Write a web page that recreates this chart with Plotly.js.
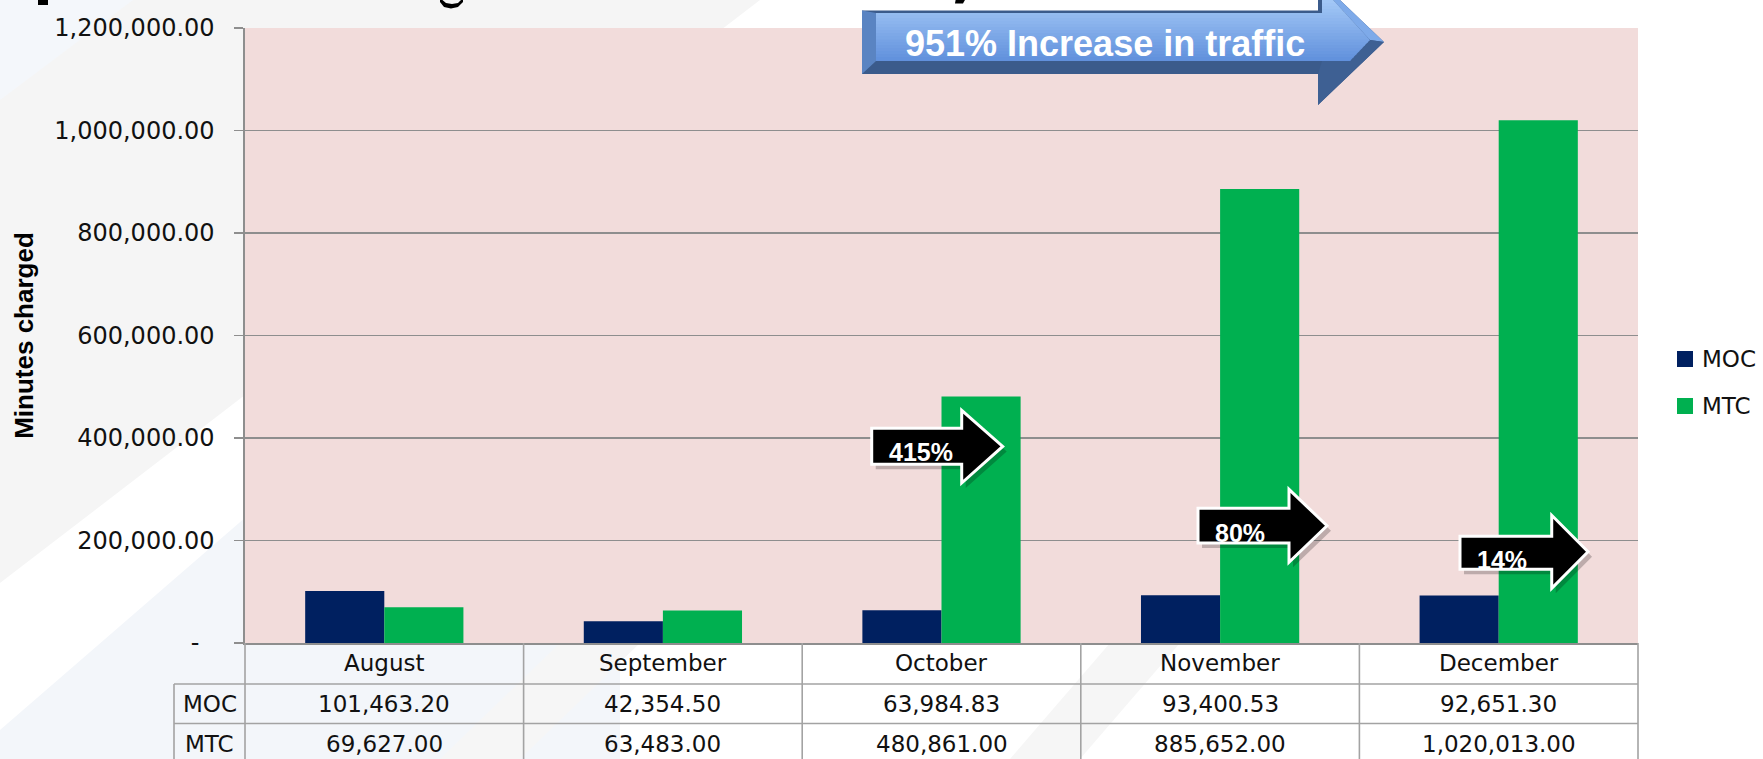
<!DOCTYPE html>
<html><head><meta charset="utf-8">
<script src="https://cdn.plot.ly/plotly-3.0.1.min.js"></script>
<style>html,body{margin:0;padding:0;background:#fff;overflow:hidden}#chart{width:1763px;height:759px}</style>
</head><body><div id="chart"></div>
<script>
// ---------- data ----------
const months = ['August', 'September', 'October', 'November', 'December'];
const mocValues = [101463.20, 42354.50, 63984.83, 93400.53, 92651.30];
const mtcValues = [69627.00, 63483.00, 480861.00, 885652.00, 1020013.00];
const seriesNames = ['MOC', 'MTC'];
const yTickValues = [0, 200000, 400000, 600000, 800000, 1000000, 1200000];
const growthLabels = ['415%', '80%', '14%'];
const growthMonths = ['October', 'November', 'December'];
const bannerText = '951% Increase in traffic';
const yAxisTitle = 'Minutes charged';

// ---------- geometry / style ----------
const W = 1763, H = 759, ML = 245, MR = 125, MT = 28, MB = 116;
const PW = W - ML - MR, PH = H - MT - MB;
const xp = px => (px - ML) / PW;
const yp = py => (H - MB - py) / PH;
const X_MIN = -0.5, X_MAX = months.length - 0.5;
const xIdxToPaper = v => (v - X_MIN) / (X_MAX - X_MIN);
const pxPerX = PW / (X_MAX - X_MIN), valPerPx = 1200000 / PH;

const SERIES_COLORS = ['#002060', '#00B050'];
const GRID = '#8e8e8e', TABLE_LINE = '#a3a3a3';
const NUM_FONT = 'DejaVu Sans, Verdana, sans-serif';
const BOLD_FONT = 'Liberation Sans, Arial, sans-serif';

// arrow shapes (offsets from month index, y in data units)
const arrowGeom = [
  {L: -0.2505, Hs: 0.0725, T: 0.2197, bt: 418900, bb: 348700, ht: 454000, hb: 312200, ty: 383500, tx: -0.0736, tty: 372100},
  {L: -0.0793, Hs: 0.2473, T: 0.3837, bt: 262800, bb: 195100, ht: 299900, hb: 157500, ty: 228700, tx: 0.0732, tty: 214000},
  {L: -0.1389, Hs: 0.1903, T: 0.3206, bt: 208200, bb: 143800, ht: 249200, hb: 106700, ty: 178000, tx: 0.0136, tty: 161400}
];

const fmt2 = v => v.toLocaleString('en-US', {minimumFractionDigits: 2, maximumFractionDigits: 2});
// Excel accounting style: zero shown as a dash, padded from the right
const yTickText = yTickValues.map(v => v === 0 ? '-\u00a0\u00a0' : fmt2(v));

// ---------- traces ----------
const traces = [
  {type: 'bar', name: seriesNames[0], x: months, y: mocValues, marker: {color: SERIES_COLORS[0]}, hoverinfo: 'x+y+name'},
  {type: 'bar', name: seriesNames[1], x: months, y: mtcValues, marker: {color: SERIES_COLORS[1]}, hoverinfo: 'x+y+name'}
];

const shapes = [];
const annotations = [];

function polyPaper(pts) {
  return 'M' + pts.map(p => xp(p[0]).toFixed(5) + ',' + yp(p[1]).toFixed(5)).join(' L') + ' Z';
}
// faint slide background decoration
shapes.push({type: 'path', xref: 'paper', yref: 'paper', layer: 'below', path: polyPaper([[0, 0], [760, 0], [0, 583]]), fillcolor: '#f5f5f5', line: {width: 0}});
shapes.push({type: 'path', xref: 'paper', yref: 'paper', layer: 'below', path: polyPaper([[0, 0], [133, 0], [0, 100]]), fillcolor: '#f4f7fb', line: {width: 0}});
shapes.push({type: 'path', xref: 'paper', yref: 'paper', layer: 'below', path: polyPaper([[0, 759], [0, 730], [300, 470], [620, 470], [620, 759]]), fillcolor: '#f3f6fa', line: {width: 0}});
shapes.push({type: 'path', xref: 'paper', yref: 'paper', layer: 'below', path: polyPaper([[560, 643], [640, 643], [520, 759], [440, 759]]), fillcolor: '#f6f6f6', line: {width: 0}});
shapes.push({type: 'path', xref: 'paper', yref: 'paper', layer: 'below', path: polyPaper([[1110, 643], [1180, 643], [1080, 759], [1010, 759]]), fillcolor: '#f6f6f6', line: {width: 0}});
// plot background (pink)
shapes.push({type: 'rect', xref: 'paper', yref: 'paper', layer: 'below', x0: 0, x1: 1, y0: 0, y1: 1, fillcolor: '#F2DCDB', line: {width: 0}});

// title remnants cut at top edge
shapes.push({type: 'path', xref: 'paper', yref: 'paper', path: polyPaper([[38, -2], [48, -2], [48, 5], [38, 5]]), fillcolor: '#000', line: {width: 0}});
shapes.push({type: 'path', xref: 'paper', yref: 'paper', path: polyPaper([[440, -2], [446, 3], [452, 4], [458, 3], [463, -2], [463, 2], [458, 7], [451, 8.5], [444, 7], [440, 2]]), fillcolor: '#000', line: {width: 0}});
shapes.push({type: 'path', xref: 'paper', yref: 'paper', path: polyPaper([[956, -2], [966, -2], [963, 3.5], [955, 3.5]]), fillcolor: '#000', line: {width: 0}});

// data table under the plot
const tableBottom = yp(770), rowLine1 = yp(684), rowLine2 = yp(723.5), labelLeft = xp(174);
for (let k = 0; k <= months.length; k++) {
  const xpv = xIdxToPaper(k - 0.5);
  shapes.push({type: 'line', xref: 'paper', yref: 'paper', x0: xpv, x1: xpv, y0: 0, y1: tableBottom, line: {color: TABLE_LINE, width: 1.6}});
}
shapes.push({type: 'line', xref: 'paper', yref: 'paper', x0: labelLeft, x1: labelLeft, y0: rowLine1, y1: tableBottom, line: {color: TABLE_LINE, width: 1.6}});
[rowLine1, rowLine2].forEach(yy => shapes.push({type: 'line', xref: 'paper', yref: 'paper', x0: labelLeft, x1: 1, y0: yy, y1: yy, line: {color: TABLE_LINE, width: 1.6}}));

const tblFont = {family: NUM_FONT, size: 23, color: '#111'};
months.forEach((m, i) => {
  annotations.push({xref: 'x', yref: 'paper', x: i, y: yp(663), text: m, showarrow: false, font: tblFont, xanchor: 'center', yanchor: 'middle'});
  annotations.push({xref: 'x', yref: 'paper', x: i, y: yp(703.5), text: fmt2(mocValues[i]), showarrow: false, font: tblFont, xanchor: 'center', yanchor: 'middle'});
  annotations.push({xref: 'x', yref: 'paper', x: i, y: yp(744), text: fmt2(mtcValues[i]), showarrow: false, font: tblFont, xanchor: 'center', yanchor: 'middle'});
});
[[seriesNames[0], 703.5], [seriesNames[1], 744]].forEach(([t, y]) =>
  annotations.push({xref: 'paper', yref: 'paper', x: xp(209.5), y: yp(y), text: t, showarrow: false, font: tblFont, xanchor: 'center', yanchor: 'middle'}));

// legend (drawn manually so it does not push the plot margins)
const legendRows = [359, 406];
seriesNames.forEach((nm, i) => {
  const cy = legendRows[i];
  shapes.push({type: 'rect', xref: 'paper', yref: 'paper', x0: xp(1677), x1: xp(1693), y0: yp(cy + 8), y1: yp(cy - 8), fillcolor: SERIES_COLORS[i], line: {width: 0}});
  annotations.push({xref: 'paper', yref: 'paper', x: xp(1700), y: yp(cy), text: nm, showarrow: false, xanchor: 'left', yanchor: 'middle',
    font: {family: NUM_FONT, size: 23, color: '#111'}});
});

// growth arrows
function arrowPath(c, g, dx, dy) {
  const P = (x, y) => (c + x + dx).toFixed(4) + ',' + (y + dy).toFixed(0);
  return 'M' + P(g.L, g.bt) + ' L' + P(g.Hs, g.bt) + ' L' + P(g.Hs, g.ht) + ' L' + P(g.T, g.ty) +
    ' L' + P(g.Hs, g.hb) + ' L' + P(g.Hs, g.bb) + ' L' + P(g.L, g.bb) + ' Z';
}
growthLabels.forEach((lab, j) => {
  const c = months.indexOf(growthMonths[j]);
  const g = arrowGeom[j];
  shapes.push({type: 'path', xref: 'x', yref: 'y', path: arrowPath(c, g, 4 / pxPerX, -5 * valPerPx), fillcolor: 'rgba(0,0,0,0.22)', line: {width: 0}});
  shapes.push({type: 'path', xref: 'x', yref: 'y', path: arrowPath(c, g, 0, 0), fillcolor: '#000000', line: {color: '#ffffff', width: 3}});
  annotations.push({xref: 'x', yref: 'y', x: c + g.tx, y: g.tty, text: lab, showarrow: false, xanchor: 'center', yanchor: 'middle',
    font: {family: BOLD_FONT, size: 25, weight: 'bold', color: '#ffffff'}});
});

// big banner arrow (pixel geometry -> paper)
const banner = {L: 862, T: 10.5, B: 74, Hs: 1318, tipX: 1384, tipY: 42, hT: -21, hB: 105};
shapes.push({type: 'path', xref: 'paper', yref: 'paper',
  path: polyPaper([[banner.L, banner.T], [banner.Hs, banner.T], [banner.Hs, banner.hT], [banner.tipX, banner.tipY], [banner.Hs, banner.hB], [banner.Hs, banner.B], [banner.L, banner.B]]),
  fillcolor: '#3b5b8b', line: {width: 0}});
shapes.push({type: 'path', xref: 'paper', yref: 'paper', path: polyPaper([[862, 10.5], [876, 13], [876, 61], [862, 74]]), fillcolor: '#5a84c2', line: {width: 0}});
shapes.push({type: 'path', xref: 'paper', yref: 'paper', path: polyPaper([[1318, -21], [1384, 42], [1370, 40], [1322, -12]]), fillcolor: '#7eaae9', line: {width: 0}});
shapes.push({type: 'path', xref: 'paper', yref: 'paper', path: polyPaper([[1318, 74], [1318, 105], [1384, 42], [1370, 40], [1350, 61], [1322, 61]]), fillcolor: '#3e6093', line: {width: 0}});
(function () {
  const top = [178, 212, 252], bot = [96, 144, 220];
  const xL = y => (y < 13 ? 1322 : 876);
  const xR = y => (y <= 40 ? 1322 + (y + 12) * 48 / 52 : 1370 - (y - 40) * 20 / 21);
  let ys = [];
  for (let y = -12; y < 61; y += 3) ys.push(y);
  ys.push(13, 40, 61);
  ys = Array.from(new Set(ys)).sort((a, b) => a - b);
  for (let k = 0; k < ys.length - 1; k++) {
    const ya = ys[k], yb = Math.min(ys[k + 1] + 0.6, 61);
    const t = ((ya + yb) / 2 + 12) / 73;
    const col = 'rgb(' + top.map((v, q) => Math.round(v + (bot[q] - v) * t)).join(',') + ')';
    const xl = xL((ya + yb) / 2);
    shapes.push({type: 'path', xref: 'paper', yref: 'paper', path: polyPaper([[xl, ya], [xR(ya), ya], [xR(yb), yb], [xl, yb]]), fillcolor: col, line: {width: 0}});
  }
})();
annotations.push({xref: 'paper', yref: 'paper', x: xp(1105), y: yp(43), text: bannerText, showarrow: false, xanchor: 'center', yanchor: 'middle',
  font: {family: BOLD_FONT, size: 36, weight: 'bold', color: '#ffffff'}});

const layout = {
  width: W, height: H,
  margin: {l: ML, r: MR, t: MT, b: MB, pad: 0, autoexpand: false},
  paper_bgcolor: '#ffffff', plot_bgcolor: 'rgba(0,0,0,0)',
  barmode: 'group', bargap: 0.432, bargroupgap: 0,
  showlegend: false,
  xaxis: {type: 'category', categoryorder: 'array', categoryarray: months, range: [X_MIN, X_MAX],
    showticklabels: false, ticks: '', showgrid: false, zeroline: false,
    showline: true, linecolor: GRID, linewidth: 1.6, fixedrange: true},
  yaxis: {range: [0, 1200000], tickvals: yTickValues, ticktext: yTickText,
    ticks: 'outside', ticklen: 9, tickwidth: 1.5, tickcolor: GRID, ticklabelstandoff: 15,
    showline: true, linecolor: GRID, linewidth: 1.6,
    showgrid: true, gridcolor: GRID, gridwidth: 1.4, zeroline: false,
    tickfont: {family: NUM_FONT, size: 24, color: '#111'},
    title: {text: yAxisTitle, standoff: 13, font: {family: BOLD_FONT, size: 26, weight: 'bold', color: '#000'}},
    automargin: false, fixedrange: true},
  shapes: shapes,
  annotations: annotations
};

Plotly.newPlot('chart', traces, layout, {displayModeBar: false, staticPlot: true});
</script></body></html>
